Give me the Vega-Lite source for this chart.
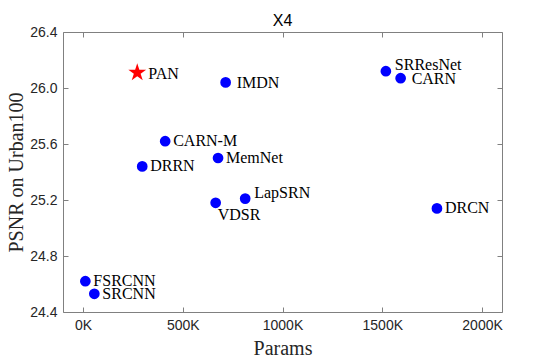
{
  "$schema": "https://vega.github.io/schema/vega-lite/v6.json",
  "width": 439,
  "height": 280,
  "autosize": {"type": "none"},
  "padding": {"left": 63, "top": 32, "right": 43, "bottom": 52},
  "background": "white",
  "title": {"text": "X4", "font": "Liberation Sans", "fontSize": 16, "fontWeight": "normal", "color": "#000000", "offset": -4, "anchor": "middle"},
  "config": {
    "view": {"stroke": null},
    "axis": {
      "grid": false,
      "domainColor": "#808080",
      "tickColor": "#808080",
      "tickSize": -5,
      "labelFont": "Liberation Sans",
      "labelFontSize": 14,
      "labelColor": "#262626",
      "titleFont": "Liberation Serif",
      "titleFontSize": 20,
      "titleFontWeight": "normal",
      "titleColor": "#262626"
    }
  },
  "data": {
    "values": [
      {"name": "PAN", "params": 272000, "psnr": 26.11, "kind": "ours"},
      {"name": "IMDN", "params": 715000, "psnr": 26.04, "kind": "other"},
      {"name": "SRResNet", "params": 1518000, "psnr": 26.12, "kind": "other"},
      {"name": "CARN", "params": 1592000, "psnr": 26.07, "kind": "other"},
      {"name": "CARN-M", "params": 412000, "psnr": 25.62, "kind": "other"},
      {"name": "DRRN", "params": 297000, "psnr": 25.44, "kind": "other"},
      {"name": "MemNet", "params": 677000, "psnr": 25.5, "kind": "other"},
      {"name": "VDSR", "params": 665000, "psnr": 25.18, "kind": "other"},
      {"name": "LapSRN", "params": 813000, "psnr": 25.21, "kind": "other"},
      {"name": "DRCN", "params": 1774000, "psnr": 25.14, "kind": "other"},
      {"name": "FSRCNN", "params": 12000, "psnr": 24.62, "kind": "other"},
      {"name": "SRCNN", "params": 57000, "psnr": 24.53, "kind": "other"}
    ]
  },
  "layer": [
    {
      "transform": [{"filter": "datum.kind == 'other'"}],
      "mark": {"type": "point", "shape": "circle", "filled": true, "size": 115, "color": "#0000ff", "opacity": 1},
      "encoding": {
        "x": {"field": "params", "type": "quantitative", "scale": {"domain": [-100000, 2100000], "nice": false, "zero": false},
          "axis": {"orient": "bottom", "values": [0, 500000, 1000000, 1500000, 2000000], "labelExpr": "format(datum.value/1000, 'd') + 'K'", "labelPadding": 11, "title": "Params", "titleBaseline": "alphabetic", "titleY": 42}},
        "y": {"field": "psnr", "type": "quantitative", "scale": {"domain": [24.4, 26.4], "nice": false, "zero": false},
          "axis": {"orient": "left", "values": [24.4, 24.8, 25.2, 25.6, 26.0, 26.4], "format": ".1f", "labelPadding": 11, "title": "PSNR on Urban100", "titleAngle": -90, "titleBaseline": "alphabetic", "titleAlign": "center", "titleX": -41, "titleY": 140}}
      }
    },
    {
      "transform": [{"filter": "datum.kind == 'ours'"}],
      "mark": {"type": "point", "shape": "M0,-1L0.2245,-0.309L0.951,-0.309L0.363,0.118L0.588,0.809L0,0.382L-0.588,0.809L-0.363,0.118L-0.951,-0.309L-0.2245,-0.309Z", "filled": true, "size": 350, "color": "#ff0000", "opacity": 1},
      "encoding": {
        "x": {"field": "params", "type": "quantitative",
          "axis": {"orient": "top", "values": [0, 500000, 1000000, 1500000, 2000000], "labels": false, "title": null}},
        "y": {"field": "psnr", "type": "quantitative",
          "axis": {"orient": "right", "values": [24.4, 24.8, 25.2, 25.6, 26.0, 26.4], "labels": false, "title": null}}
      }
    },
    {
      "transform": [{"filter": "indexof(['FSRCNN','SRCNN','DRRN','CARN-M','MemNet','DRCN'], datum.name) >= 0"}],
      "mark": {"type": "text", "align": "left", "baseline": "middle", "dx": 8, "font": "Liberation Serif", "fontSize": 16, "color": "#000000"},
      "encoding": {
        "x": {"field": "params", "type": "quantitative", "axis": null},
        "y": {"field": "psnr", "type": "quantitative", "axis": null},
        "text": {"field": "name"}
      }
    },
    {
      "transform": [{"filter": "indexof(['PAN','IMDN','CARN'], datum.name) >= 0"}],
      "mark": {"type": "text", "align": "left", "baseline": "middle", "dx": 11, "dy": 1, "font": "Liberation Serif", "fontSize": 16, "color": "#000000"},
      "encoding": {
        "x": {"field": "params", "type": "quantitative", "axis": null},
        "y": {"field": "psnr", "type": "quantitative", "axis": null},
        "text": {"field": "name"}
      }
    },
    {
      "transform": [{"filter": "indexof(['SRResNet','LapSRN'], datum.name) >= 0"}],
      "mark": {"type": "text", "align": "left", "baseline": "middle", "dx": 9, "dy": -6, "font": "Liberation Serif", "fontSize": 16, "color": "#000000"},
      "encoding": {
        "x": {"field": "params", "type": "quantitative", "axis": null},
        "y": {"field": "psnr", "type": "quantitative", "axis": null},
        "text": {"field": "name"}
      }
    },
    {
      "transform": [{"filter": "datum.name == 'VDSR'"}],
      "mark": {"type": "text", "align": "left", "baseline": "middle", "dx": 2, "dy": 12, "font": "Liberation Serif", "fontSize": 16, "color": "#000000"},
      "encoding": {
        "x": {"field": "params", "type": "quantitative", "axis": null},
        "y": {"field": "psnr", "type": "quantitative", "axis": null},
        "text": {"field": "name"}
      }
    }
  ],
  "resolve": {"axis": {"x": "independent", "y": "independent"}}
}
